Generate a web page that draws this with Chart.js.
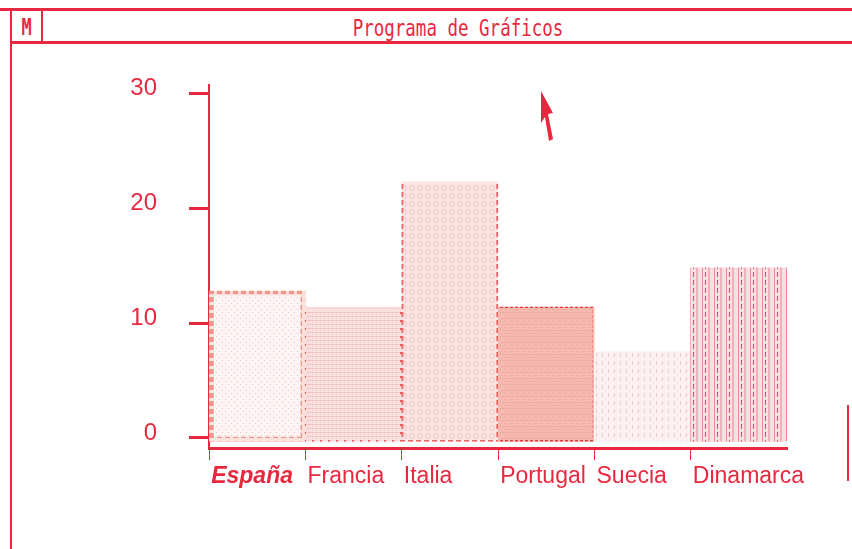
<!DOCTYPE html>
<html>
<head>
<meta charset="utf-8">
<title>Programa de Gráficos</title>
<script src="https://cdn.jsdelivr.net/npm/chart.js@4.4.1/dist/chart.umd.min.js"></script>
<style>
  html, body { margin: 0; padding: 0; background: #fff; }
  #screen { position: relative; width: 852px; height: 549px; overflow: hidden; background: #fff; }
  .rule { position: absolute; background: #e8283f; }
  .mono { position: absolute; color: #e8283f; font-family: "DejaVu Sans Mono", monospace; white-space: nowrap; }
  #chart { position: absolute; left: 0; top: 0; }
  #pointer { position: absolute; left: 0; top: 0; }
</style>
</head>
<body>
<div id="screen">
  <!-- window frame -->
  <div class="rule" style="left:0; top:8px; width:852px; height:3px;"></div>
  <div class="rule" style="left:10px; top:41px; width:842px; height:3px;"></div>
  <div class="rule" style="left:10px; top:9px; width:2px; height:540px;"></div>
  <div class="rule" style="left:41px; top:9px; width:2px; height:34px;"></div>
  <div class="rule" style="left:847px; top:405px; width:2px; height:76px;"></div>
  <div class="mono" style="left:12px; top:13px; width:29px; text-align:center; font-size:17px; font-weight:bold; transform:scaleY(1.35); transform-origin:top;">M</div>
  <div class="mono" style="left:0; top:14px; width:916px; text-align:center; font-size:17.5px; transform:scaleY(1.35); transform-origin:top;">Programa de Gráficos</div>

  <canvas id="chart" width="852" height="549"></canvas>

  <svg id="pointer" width="852" height="549">
    <polygon points="541,91 553,113 548,114 553,139 549,141 545,117 541,123" fill="#e8283f"/>
  </svg>
</div>

<script>
// data
const countries = ['España', 'Francia', 'Italia', 'Portugal', 'Suecia', 'Dinamarca'];
const values = [12.8, 11.4, 22.3, 11.4, 7.5, 14.8];
const yTicks = [0, 10, 20, 30];

const RED = '#e8283f';
const FONT = '"Liberation Sans", Arial, sans-serif';

// small repeating tiles used as dithered fills
function tile(w, h, base, draw) {
    const c = document.createElement('canvas');
    c.width = w;
    c.height = h;
    const g = c.getContext('2d');
    g.fillStyle = base;
    g.fillRect(0, 0, w, h);
    draw(g);
    return g.createPattern(c, 'repeat');
}

const fills = [
    tile(6, 6, '#fdf4f4', g => { g.fillStyle = '#f4bcbc'; g.fillRect(0, 0, 1, 1); g.fillRect(3, 3, 1, 1); }),
    tile(4, 4, '#fae3e3', g => { g.fillStyle = '#f2c4c4'; g.fillRect(0, 0, 4, 1); g.fillRect(0, 2, 1, 1); }),
    tile(8, 8, '#fbe6e6', g => { g.strokeStyle = '#f3c2c2'; g.beginPath(); g.arc(4, 4, 2.5, 0, Math.PI * 2); g.stroke(); }),
    tile(6, 6, '#f6b9b0', g => { g.fillStyle = '#f2aba1'; g.fillRect(0, 0, 6, 1); g.fillRect(0, 3, 3, 1); }),
    tile(6, 8, '#fbf0f0', g => { g.fillStyle = '#efcaca'; g.fillRect(2, 1, 1, 4); }),
    tile(12, 8, '#f9dfe4', g => {
        g.fillStyle = '#f1b0bc'; g.fillRect(0, 0, 2, 8);
        g.fillStyle = '#ec8c9c'; g.fillRect(6, 0, 1, 8);
        g.fillStyle = '#e44c62'; g.fillRect(9, 0, 1, 5);
    })
];

const borders = [
    tile(8, 8, '#fbe1dc', g => { g.fillStyle = '#f09888'; g.fillRect(1, 1, 5, 5); }),
    tile(8, 8, '#f8dcdc', g => { g.fillStyle = '#ee5c5c'; g.fillRect(0, 0, 2, 2); }),
    tile(8, 8, '#fbe6e6', g => { g.fillStyle = '#ec6262'; g.fillRect(0, 0, 5, 5); }),
    tile(5, 5, '#f6b9b0', g => { g.fillStyle = '#e8353a'; g.fillRect(0, 0, 3, 3); }),
    'rgba(0,0,0,0)',
    'rgba(0,0,0,0)'
];

const ctx = document.getElementById('chart').getContext('2d');

new Chart(ctx, {
    type: 'bar',
    data: {
        labels: countries,
        datasets: [{
            data: values,
            base: -0.3,
            backgroundColor: fills,
            borderColor: borders,
            borderWidth: [5, 2, 2, 2, 0, 0],
            borderSkipped: false,
            categoryPercentage: 1,
            barPercentage: 1
        }]
    },
    options: {
        responsive: false,
        animation: false,
        layout: { padding: { top: 85, right: 65, left: 0, bottom: 0 } },
        plugins: {
            legend: { display: false },
            tooltip: { enabled: false }
        },
        scales: {
            x: {
                offset: true,
                afterFit: (scale) => {
                    scale.height = 101;
                    // labels hang to the right of their marks; don't let that shrink the plot
                    scale.paddingLeft = 0;
                    scale.paddingRight = 0;
                },
                border: { display: true, color: RED, width: 3 },
                grid: {
                    offset: true,
                    drawOnChartArea: false,
                    tickLength: 12,
                    lineWidth: 1,
                    // one mark at the left edge of each country, none at the far end
                    color: (c) => c.index < countries.length ? RED : 'rgba(0,0,0,0)'
                },
                ticks: {
                    color: RED,
                    align: 'start',
                    labelOffset: -46,
                    padding: 3,
                    maxRotation: 0,
                    autoSkip: false,
                    font: (c) => c.index === 0
                        ? { family: FONT, size: 23, style: 'italic', weight: 'bold' }
                        : { family: FONT, size: 23 }
                }
            },
            y: {
                min: -0.87,
                max: 30.7,
                afterFit: (scale) => { scale.width = 209; },
                afterBuildTicks: (scale) => { scale.ticks = yTicks.map(v => ({ value: v })); },
                border: { display: true, color: RED, width: 2 },
                grid: {
                    drawOnChartArea: false,
                    tickLength: 20,
                    lineWidth: 3,
                    color: RED
                },
                ticks: {
                    color: RED,
                    padding: 32,
                    labelOffset: -5,
                    font: { family: FONT, size: 24 }
                }
            }
        }
    }
});
</script>
</body>
</html>
